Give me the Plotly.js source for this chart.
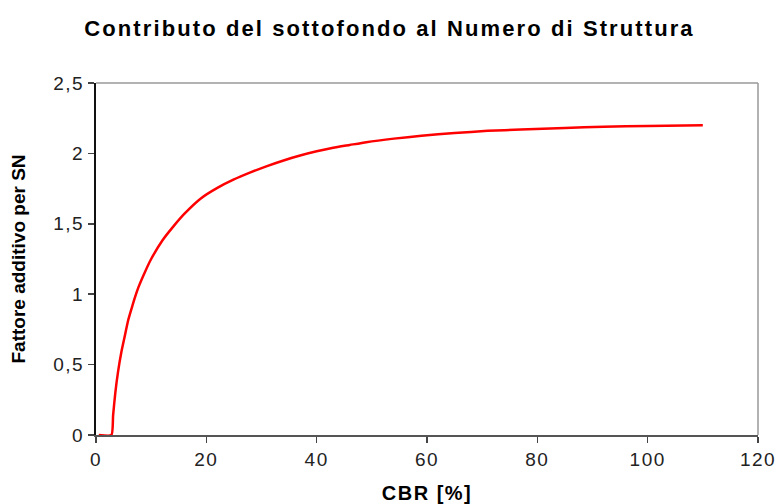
<!DOCTYPE html>
<html>
<head>
<meta charset="utf-8">
<script src="https://cdn.plot.ly/plotly-3.0.1.min.js"></script>
<style>
  html, body { margin: 0; padding: 0; background: #fff; }
  #chart { width: 779px; height: 504px; }
  .gtitle { letter-spacing: 2.1px; }
  .xtitle { letter-spacing: 1.5px; }
  .xtick text, .ytick text { letter-spacing: 1.5px; }
</style>
</head>
<body>
<div id="chart"></div>
<script>
// CBR [%] values
const cbr = [0.5, 2.8, 3.1, 3.5, 4.0, 4.6, 5.2, 5.8, 6.5, 7.0, 7.7, 8.9, 10, 12, 14, 16, 19, 22, 25, 28, 31, 34, 37, 40, 43, 46, 49, 54, 59, 65, 71, 77, 85, 92, 100, 110];
// Fattore additivo per SN
const fattore = [0, 0, 0.14, 0.30, 0.45, 0.59, 0.70, 0.81, 0.905, 0.97, 1.05, 1.16, 1.25, 1.38, 1.48, 1.57, 1.68, 1.755, 1.815, 1.865, 1.91, 1.95, 1.985, 2.015, 2.04, 2.06, 2.08, 2.105, 2.125, 2.145, 2.16, 2.17, 2.18, 2.19, 2.195, 2.2];

const xTicks = [0, 20, 40, 60, 80, 100, 120];
const yTicks = [0, 0.5, 1, 1.5, 2, 2.5];
const yTickText = ['0', '0,5', '1', '1,5', '2', '2,5'];

const trace = {
  x: cbr,
  y: fattore,
  type: 'scatter',
  mode: 'lines',
  line: { color: '#ff0000', width: 2.5, shape: 'spline', smoothing: 0.5 },
  hoverinfo: 'x+y'
};

const fontFam = 'Liberation Sans, Arial, sans-serif';

const layout = {
  width: 779,
  height: 504,
  paper_bgcolor: '#ffffff',
  plot_bgcolor: '#ffffff',
  separators: ',.',
  showlegend: false,
  margin: { l: 96, r: 21, t: 83, b: 69, pad: 0 },
  title: {
    text: 'Contributo del sottofondo al Numero di Struttura',
    font: { family: fontFam, size: 22, color: '#000000', weight: 'bold' },
    x: 0.5, xanchor: 'center', xref: 'container',
    y: 1 - 28 / 504, yanchor: 'middle', yref: 'container'
  },
  xaxis: {
    range: [0, 120],
    tickmode: 'array',
    tickvals: xTicks,
    ticktext: xTicks.map(String),
    ticks: 'outside', ticklen: 6, tickwidth: 1.5, tickcolor: '#444',
    showline: true, linecolor: '#555', linewidth: 2,
    showgrid: false, zeroline: false,
    tickfont: { family: fontFam, size: 19, color: '#222' },
    title: {
      text: 'CBR [%]',
      font: { family: fontFam, size: 20, color: '#000000', weight: 'bold' },
      standoff: 18
    },
    fixedrange: true
  },
  yaxis: {
    range: [0, 2.5],
    tickmode: 'array',
    tickvals: yTicks,
    ticktext: yTickText,
    ticks: 'outside', ticklen: 6, tickwidth: 1.5, tickcolor: '#444',
    showline: true, linecolor: '#111', linewidth: 2,
    showgrid: false, zeroline: false,
    tickfont: { family: fontFam, size: 19, color: '#222' },
    title: {
      text: 'Fattore additivo per SN',
      font: { family: fontFam, size: 19, color: '#000000', weight: 'bold' },
      standoff: 23
    },
    fixedrange: true
  },
  shapes: [
    { type: 'line', xref: 'paper', yref: 'paper', x0: 0, x1: 1, y0: 1, y1: 1,
      line: { color: '#999', width: 1.5 } },
    { type: 'line', xref: 'paper', yref: 'paper', x0: 1, x1: 1, y0: 0, y1: 1,
      line: { color: '#999', width: 1.5 } }
  ]
};

Plotly.newPlot('chart', [trace], layout, { displayModeBar: false, staticPlot: true });
</script>
</body>
</html>
